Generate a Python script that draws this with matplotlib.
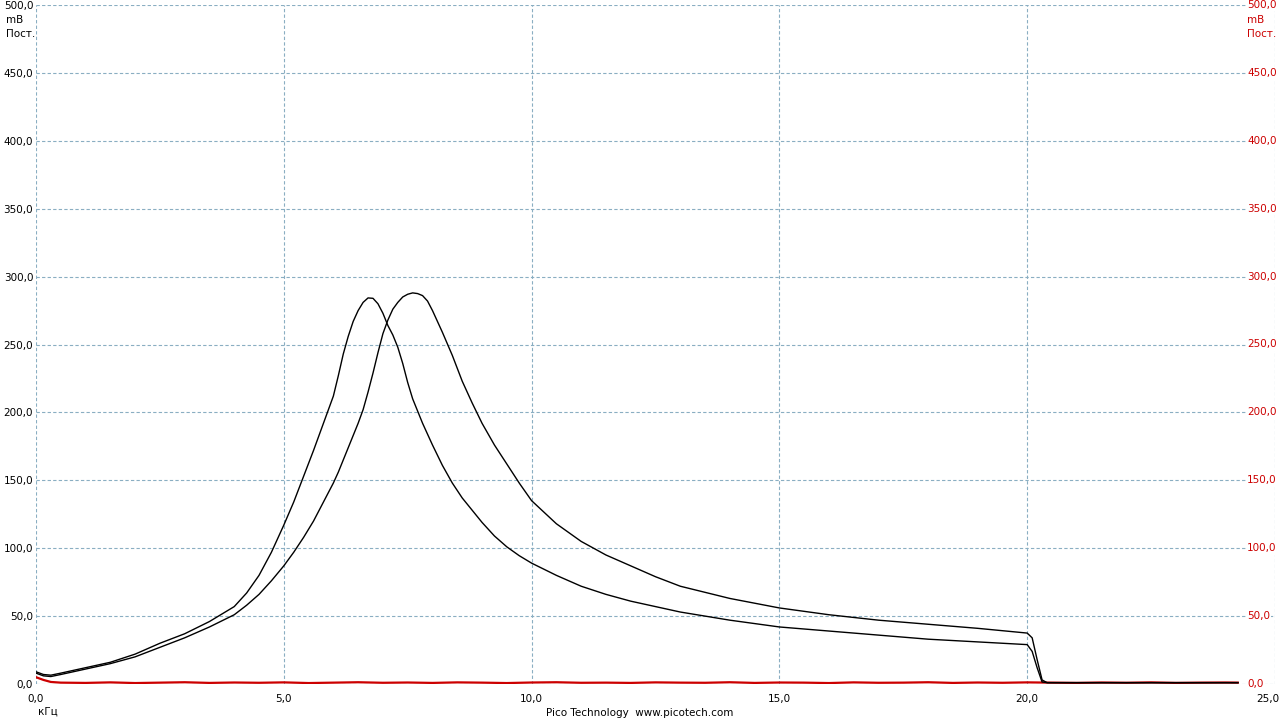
import matplotlib
matplotlib.use("Agg")
import matplotlib.pyplot as plt
from matplotlib.transforms import ScaledTranslation

# frequency grid (kHz) shared by both black traces
freq = [0.0, 0.15, 0.3, 0.5, 0.75, 1.0, 1.5, 2.0, 2.5, 3.0, 3.5, 4.0, 4.25,
        4.5, 4.75, 5.0, 5.2, 5.4, 5.6, 5.8, 6.0, 6.1, 6.2, 6.3, 6.4, 6.5, 6.6,
        6.7, 6.8, 6.9, 7.0, 7.1, 7.2, 7.3, 7.4, 7.5, 7.6, 7.7, 7.8, 7.9, 8.0,
        8.2, 8.4, 8.6, 8.8, 9.0, 9.25, 9.5, 9.75, 10.0, 10.5, 11.0, 11.5, 12.0,
        12.5, 13.0, 14.0, 15.0, 16.0, 17.0, 18.0, 19.0, 20.0, 20.1, 20.2, 20.3,
        20.4, 21.0, 22.0, 23.0, 24.0, 24.25]

# trace peaking near 6.7 kHz (mV)
trace_a = [9, 7, 6.5, 8, 10, 12, 16, 22, 30, 37, 46, 57, 67,
           80, 97, 117, 134, 153, 172, 192, 212, 227, 243, 256, 267, 275, 281,
           284.3, 284, 280, 273, 264, 257, 248, 236, 222, 210, 201, 192, 184, 176,
           161, 148, 137, 128, 119, 109, 101, 94.5, 89, 80, 72, 66, 61,
           57, 53, 47, 42, 39, 36, 33, 31, 29, 24, 12, 1.5,
           1, 1, 1, 1, 1, 1]

# trace peaking near 7.6 kHz (mV)
trace_b = [8, 6, 5.5, 7, 9, 11, 15, 20, 27, 34, 42, 51, 58,
           66, 76, 87, 97, 108, 120, 134, 148, 156, 165, 174, 183, 192, 202,
           215, 229, 244, 258, 268, 276, 281, 285, 287, 288, 287.5, 286, 282, 275,
           259, 242, 223, 207, 192, 176, 162, 148, 135, 118, 105, 95, 87,
           79, 72, 63, 56, 51, 47, 44, 41, 37.5, 34, 18, 3,
           1, 1, 1, 1, 1, 1]

# red channel, near zero
red_freq = [0.0, 0.15, 0.3, 0.5, 1.0, 1.5, 2.0, 2.5, 3.0, 3.5, 4.0, 4.5, 5.0,
            5.5, 6.0, 6.5, 7.0, 7.5, 8.0, 8.5, 9.0, 9.5, 10.0, 10.5, 11.0,
            11.5, 12.0, 12.5, 13.0, 13.5, 14.0, 14.5, 15.0, 15.5, 16.0, 16.5,
            17.0, 17.5, 18.0, 18.5, 19.0, 19.5, 20.0, 20.5, 21.0, 21.5, 22.0,
            22.5, 23.0, 23.5, 24.0, 24.25]
red_vals = [5, 3, 1.5, 1.0, 0.8, 1.2, 0.7, 1.0, 1.3, 0.8, 1.1, 0.9, 1.2,
            0.7, 1.0, 1.3, 0.9, 1.1, 0.8, 1.2, 1.0, 0.7, 1.1, 1.3, 0.9,
            1.0, 0.8, 1.2, 1.0, 0.9, 1.3, 0.8, 1.1, 1.0, 0.7, 1.2,
            0.9, 1.0, 1.3, 0.8, 1.1, 0.9, 1.2, 1.0, 0.8, 1.1, 0.9,
            1.2, 0.8, 1.0, 1.1, 1.0]

x_ticks = [0, 5, 10, 15, 20, 25]
y_ticks = [0, 50, 100, 150, 200, 250, 300, 350, 400, 450, 500]


def fmt(v):
    return f"{v:.1f}".replace(".", ",")


RED = "#cc0000"
GRID = "#8aaec2"

fig = plt.figure(figsize=(12.8, 7.2), dpi=100)
ax = fig.add_axes([36 / 1280, 36 / 720, (1275 - 36) / 1280, (684 - 5) / 720])
ax.set_xlim(0, 25)
ax.set_ylim(0, 500)

for s in ax.spines.values():
    s.set_visible(False)

ax.set_xticks(x_ticks)
ax.set_xticklabels([fmt(v) for v in x_ticks], fontsize=7.5)
ax.set_yticks(y_ticks)
ax.set_yticklabels([fmt(v) for v in y_ticks], fontsize=7.5)
ax.tick_params(length=0)
ax.tick_params(axis="x", pad=7)
ax.tick_params(axis="y", pad=2)
ax.grid(True, color=GRID, linestyle=(0, (3, 2)), linewidth=0.8)
ax.set_axisbelow(True)

# keep the last x label inside the canvas
last = ax.get_xticklabels()[-1]
last.set_transform(last.get_transform() + ScaledTranslation(-0.07, 0, fig.dpi_scale_trans))

ax.plot(red_freq, red_vals, color=RED, linewidth=1.6, zorder=2)
ax.plot(freq, trace_b, color="black", linewidth=1.0, zorder=3)
ax.plot(freq, trace_a, color="black", linewidth=1.0, zorder=3)

# right-hand red scale, drawn inside the plot
trans = ax.get_yaxis_transform()
x_right = (1247 - 36) / (1275 - 36)
for v in y_ticks:
    ax.text(x_right, v, fmt(v), transform=trans, color=RED, fontsize=7.5,
            ha="left", va="center", zorder=5,
            bbox=dict(facecolor="white", edgecolor="none", pad=1.0))

# unit labels
fig.text(6 / 1280, 1 - 20 / 720, "mВ", fontsize=7.5, ha="left", va="center")
fig.text(6 / 1280, 1 - 34 / 720, "Пост.", fontsize=7.5, ha="left", va="center")
fig.text(1247 / 1280, 1 - 20 / 720, "mВ", fontsize=7.5, ha="left", va="center",
         color=RED)
fig.text(1247 / 1280, 1 - 34 / 720, "Пост.", fontsize=7.5, ha="left",
         va="center", color=RED)

fig.text(38 / 1280, 1 - 712 / 720, "кГц", fontsize=7.5, ha="left", va="center")
fig.text(640 / 1280, 1 - 713 / 720, "Pico Technology  www.picotech.com",
         fontsize=7.5, ha="center", va="center")

fig.savefig("out.png", dpi=100, facecolor="white")
